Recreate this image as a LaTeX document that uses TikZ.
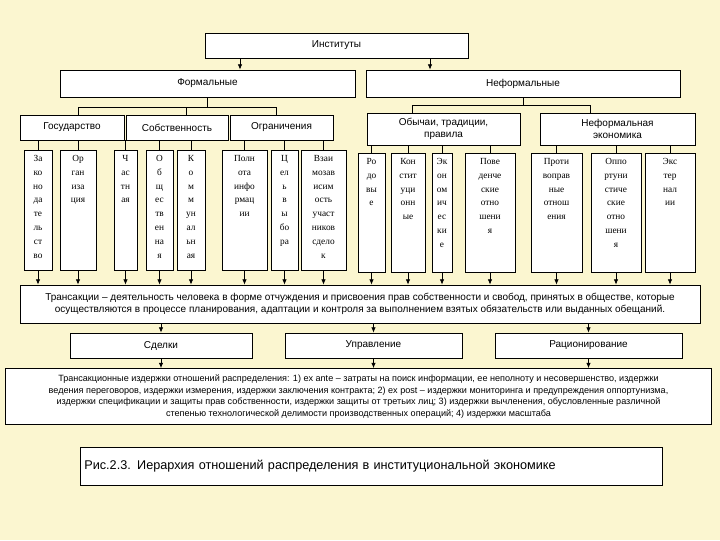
\documentclass[tikz,border=0pt]{standalone}
\usepackage{fontspec}
\setmainfont{Liberation Sans}
\newfontfamily\serf{Liberation Serif}
\usetikzlibrary{arrows.meta}
\newcommand\bx[6]{\pgfmathsetmacro\bw{(#4-#2)*0.75}\pgfmathsetmacro\bh{(#5-#3)*0.75}%
\node[box,minimum width=\bw pt,minimum height=\bh pt] (#1) at ({(#2+#4)/2},{(#3+#5)/2}) {#6};}
\newcommand\tb[6]{\pgfmathsetmacro\bw{(#4-#2)*0.75}\pgfmathsetmacro\bh{(#5-#3)*0.75}%
\node[box,inner sep=0pt,minimum width=\bw pt,minimum height=\bh pt] (#1) at ({(#2+#4)/2},{(#3+#5)/2}) {};
\node[anchor=north,inner sep=0pt,align=center,font=\serf\fontsize{7}{10.4}\selectfont] at ([yshift=-4pt]#1.north) {#6};}
\begin{document}
\begin{tikzpicture}[x=0.75pt,y=-0.75pt,
 box/.style={draw=black,fill=white,line width=0.6pt,inner sep=1pt,align=center,font=\fontsize{7.5}{9}\selectfont},
 ln/.style={line width=0.6pt},
 arr/.style={line width=0.6pt,-{Latex[length=4pt,width=3.5pt]}}]
\fill[fill={rgb,255:red,251;green,246;blue,208}] (0,0) rectangle (720,540);
\useasboundingbox (0,0) rectangle (720,540);
\bx{inst}{205}{33}{468}{58}{Институты}
\bx{form}{60}{70}{355}{97}{Формальные}
\bx{neform}{366}{70}{680}{97}{Неформальные}
\bx{gos}{20}{115}{124}{140}{Государство}
\bx{sob}{126}{115}{228}{140}{Собственность}
\bx{ogr}{230}{115}{333}{140}{Ограничения}
\bx{obych}{367}{113}{520}{145}{Обычаи, традиции,\\правила}
\bx{neek}{540}{113}{695}{145}{Неформальная\\экономика}
\tb{za}{24}{150}{52}{270}{За\\ко\\но\\да\\те\\ль\\ст\\во}
\tb{org}{60}{150}{96}{270}{Ор\\ган\\иза\\ция}
\tb{ch}{114}{150}{137}{270}{Ч\\ас\\тн\\ая}
\tb{ob}{146}{150}{173}{270}{О\\б\\щ\\ес\\тв\\ен\\на\\я}
\tb{kom}{177}{150}{205}{270}{К\\о\\м\\м\\ун\\ал\\ьн\\ая}
\tb{poln}{222}{150}{267}{270}{Полн\\ота\\инфо\\рмац\\ии}
\tb{cel}{271}{150}{298}{270}{Ц\\ел\\ь\\в\\ы\\бо\\ра}
\tb{vz}{301}{150}{346}{270}{Взаи\\мозав\\исим\\ость\\участ\\ников\\сдело\\к}
\tb{rod}{358}{153}{385}{272}{Ро\\до\\вы\\е}
\tb{kon}{391}{153}{425}{272}{Кон\\стит\\уци\\онн\\ые}
\tb{ek}{432}{153}{452}{272}{Эк\\он\\ом\\ич\\ес\\ки\\е}
\tb{pov}{465}{153}{515}{272}{Пове\\денче\\ские\\отно\\шени\\я}
\tb{prot}{531}{153}{582}{272}{Проти\\воправ\\ные\\отнош\\ения}
\tb{opp}{591}{153}{641}{272}{Оппо\\ртуни\\стиче\\ские\\отно\\шени\\я}
\tb{eks}{645}{153}{695}{272}{Экс\\тер\\нал\\ии}
\bx{tr}{20}{285}{700}{323}{Трансакции – деятельность человека в форме отчуждения и присвоения прав собственности и свобод, принятых в обществе, которые\\осуществляются в процессе планирования, адаптации и контроля за выполнением взятых обязательств или выданных обещаний.}
\bx{sd}{70}{333}{252}{358}{Сделки}
\bx{up}{285}{333}{462}{358}{Управление}
\bx{rac}{495}{333}{682}{358}{Рационирование}
\node[box,minimum width=530pt,minimum height=42pt,font=\fontsize{6.8}{8.7}\selectfont] (izd) at (358.5,396.5) {Трансакционные издержки отношений распределения: 1) ex ante – затраты на поиск информации, ее неполноту и несовершенство, издержки\\ведения переговоров, издержки измерения, издержки заключения контракта; 2) ex post – издержки мониторинга и предупреждения оппортунизма,\\издержки спецификации и защиты прав собственности, издержки защиты от третьих лиц; 3) издержки вычленения, обусловленные различной\\степенью технологической делимости производственных операций; 4) издержки масштаба};
\node[box,minimum width=436.5pt,minimum height=28.5pt,text width=430pt,align=left,font=\fontsize{9.5}{11}\selectfont] (cap) at (371,466) {Рис.2.3. Иерархия отношений распределения в институциональной экономике\\[6pt]};
\draw[arr] (inst.south -| 240,0) -- (240,0 |- form.north);
\draw[arr] (inst.south -| 430,0) -- (430,0 |- neform.north);
\draw[ln] (form.south) -- (form.south |- 0,107);
\draw[ln] (78,107) -- (276,107);
\draw[ln] (78,107) -- (gos.north -| 78,0);
\draw[ln] (186,107) -- (sob.north -| 186,0);
\draw[ln] (276,107) -- (ogr.north -| 276,0);
\draw[ln] (neform.south) -- (neform.south |- 0,105);
\draw[ln] (412,105) -- (590,105);
\draw[ln] (412,105) -- (obych.north -| 412,0);
\draw[ln] (590,105) -- (neek.north -| 590,0);
\foreach \c in {za,org} \draw[ln] (gos.south -| \c) -- (\c.north);
\foreach \c in {ch,ob,kom} \draw[ln] (sob.south -| \c) -- (\c.north);
\foreach \c in {poln,cel,vz} \draw[ln] (ogr.south -| \c) -- (\c.north);
\foreach \c in {rod,kon,ek,pov} \draw[ln] (obych.south -| \c) -- (\c.north);
\foreach \c in {prot,opp,eks} \draw[ln] (neek.south -| \c) -- (\c.north);
\foreach \c in {za,org,ch,ob,kom,poln,cel,vz,rod,kon,ek,pov,prot,opp,eks} \draw[arr] (\c.south) -- (\c.south |- tr.north);
\foreach \c in {sd,up,rac} {\draw[arr] (tr.south -| \c) -- (\c.north); \draw[arr] (\c.south) -- (\c.south |- izd.north);}
\end{tikzpicture}
\end{document}
